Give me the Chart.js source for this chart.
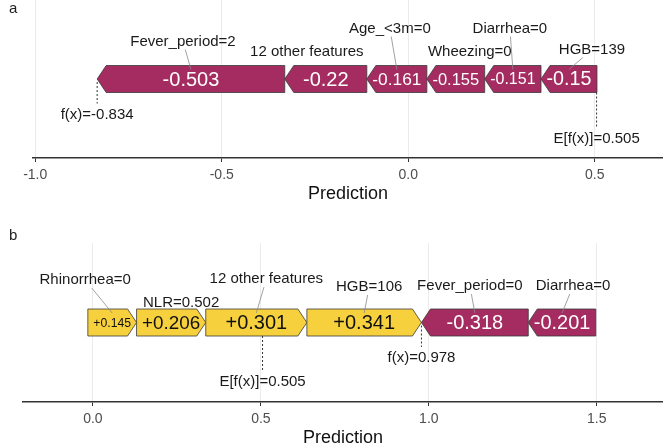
<!DOCTYPE html>
<html>
<head>
<meta charset="utf-8">
<script src="https://cdn.jsdelivr.net/npm/chart.js@4/dist/chart.umd.min.js"></script>
<style>
  html, body { margin: 0; padding: 0; background: #fff; overflow: hidden; }
  #wrap { position: relative; width: 663px; height: 446px; overflow: hidden; font-family: "Liberation Sans", Arial, sans-serif; }
  canvas { position: absolute; left: 0; }
  #cA { top: 0; }
  #cB { top: 223px; }
  .tag { position: absolute; left: 9px; font-size: 15px; color: #222; }
</style>
</head>
<body>
<div id="wrap">
  <canvas id="cA" width="663" height="223"></canvas>
  <canvas id="cB" width="663" height="226"></canvas>
  <div class="tag" style="top:-1px">a</div>
  <div class="tag" style="top:226px">b</div>
</div>
<script>
// panel a – features left to right, SHAP values
const featuresA = ['Fever_period=2', '12 other features', 'Age_<3m=0', 'Wheezing=0', 'Diarrhea=0', 'HGB=139'];
const shapA = [-0.503, -0.22, -0.161, -0.155, -0.151, -0.15];
const baseA = 0.505;
const fxA = -0.834;

// panel b
const featuresB = ['Rhinorrhea=0', 'NLR=0.502', '12 other features', 'HGB=106', 'Fever_period=0', 'Diarrhea=0'];
const shapB = [0.145, 0.206, 0.301, 0.341, -0.318, -0.201];
const baseB = 0.505;
const fxB = 0.978;

// label placement (repel result), offsets from bar centre / bar top in px
const offsA = [[-8, -24], [-19, -14], [-7, -37], [14, -14], [-3, -37], [23, -16]];
const offsB = [[-27, -29], [10, -6], [10, -30], [5, -22], [-5, -23], [11, -23]];

const POS = '#f7d13d', NEG = '#a52c60';
const FONT = '"Liberation Sans", Arial, sans-serif';

function segments(vals, fx) {
  let x0 = fx - vals.filter(v => v > 0).reduce((a, b) => a + b, 0);
  return vals.map(v => { const s = [x0, x0 + Math.abs(v)]; x0 += Math.abs(v); return s; });
}

const forcePlugin = {
  id: 'force',
  afterDatasetsDraw(chart) {
    const ctx = chart.ctx;
    const o = chart.options.plugins.force;
    const xs = chart.scales.x;
    const tip = 9;
    let top = 0, bottom = 0, mid = 0;
    ctx.save();
    chart.data.datasets.forEach((ds, i) => {
      const el = chart.getDatasetMeta(i).data[0];
      const l = Math.min(el.x, el.base), r = Math.max(el.x, el.base);
      top = el.y - el.height / 2; bottom = el.y + el.height / 2; mid = el.y;
      const v = o.values[i];
      ctx.beginPath();
      if (v > 0) {
        ctx.moveTo(l, top); ctx.lineTo(r - tip, top); ctx.lineTo(r, mid);
        ctx.lineTo(r - tip, bottom); ctx.lineTo(l, bottom);
      } else {
        ctx.moveTo(l, mid); ctx.lineTo(l + tip, top); ctx.lineTo(r, top);
        ctx.lineTo(r, bottom); ctx.lineTo(l + tip, bottom);
      }
      ctx.closePath();
      ctx.fillStyle = v > 0 ? POS : NEG;
      ctx.fill();
      ctx.lineWidth = 0.8;
      ctx.strokeStyle = '#3a3a3a';
      ctx.stroke();

      // value text, shrunk to fit
      const txt = (v > 0 ? '+' : '') + v;
      ctx.font = '20px ' + FONT;
      const w20 = ctx.measureText(txt).width;
      const size = Math.min(20, 20 * (r - l - 11) / w20);
      ctx.font = size + 'px ' + FONT;
      ctx.fillStyle = v > 0 ? '#111' : '#fff';
      ctx.textAlign = 'center';
      ctx.textBaseline = 'middle';
      ctx.fillText(txt, (l + r) / 2, mid + 1);

      // feature label + leader
      const off = o.offsets[i];
      const cx = (l + r) / 2;
      const tx = cx + off[0], ty = top + off[1];
      ctx.font = '15px ' + FONT;
      ctx.fillStyle = '#1a1a1a';
      ctx.fillText(o.labels[i], tx, ty);
      if (off[1] < -15) {
        const hw = ctx.measureText(o.labels[i]).width / 2 + 1;
        const hh = 8;
        const dx = cx - tx, dy = top + 4 - ty;
        const t = Math.min(Math.abs(hw / (dx || 1e-6)), Math.abs(hh / dy));
        ctx.beginPath();
        ctx.moveTo(tx + dx * t, ty + dy * t);
        ctx.lineTo(cx, top + 4);
        ctx.strokeStyle = '#8a8a8a';
        ctx.lineWidth = 0.8;
        ctx.stroke();
      }
    });

    // reference markers
    ctx.setLineDash([2, 2]);
    ctx.strokeStyle = '#333';
    ctx.lineWidth = 1;
    ctx.font = '15px ' + FONT;
    ctx.fillStyle = '#1a1a1a';
    const fxP = xs.getPixelForValue(o.fx), bP = xs.getPixelForValue(o.base);
    ctx.beginPath(); ctx.moveTo(fxP, mid + 3); ctx.lineTo(fxP, bottom + 11); ctx.stroke();
    ctx.beginPath(); ctx.moveTo(bP, bottom); ctx.lineTo(bP, bottom + 35); ctx.stroke();
    ctx.fillText('f(x)=' + o.fx, fxP, bottom + 22);
    ctx.fillText('E[f(x)]=' + o.base, bP, bottom + 46);
    ctx.restore();
  }
};

function makeChart(id, feats, vals, base, fx, offs, xmin, xmax, pad, axisH) {
  const segs = segments(vals, fx);
  return new Chart(document.getElementById(id), {
    type: 'bar',
    data: {
      labels: [''],
      datasets: segs.map((s, i) => ({
        label: feats[i],
        data: [s],
        backgroundColor: 'rgba(0,0,0,0)',
        borderWidth: 0,
        barThickness: 27,
        grouped: false
      }))
    },
    options: {
      indexAxis: 'y',
      responsive: false,
      animation: false,
      layout: { padding: pad },
      plugins: {
        legend: { display: false },
        tooltip: { enabled: false },
        force: { values: vals, labels: feats, offsets: offs, base: base, fx: fx }
      },
      scales: {
        y: { display: false },
        x: {
          type: 'linear',
          min: xmin,
          max: xmax,
          afterFit: s => { s.height = axisH; },
          ticks: {
            stepSize: 0.5,
            includeBounds: false,
            padding: 5,
            color: '#4d4d4d',
            font: { family: FONT, size: 14 },
            callback: v => v.toFixed(1)
          },
          grid: { color: '#ebebeb', lineWidth: 1, tickLength: 4, tickColor: '#333' },
          border: { color: '#333', width: 1.5 },
          title: { display: true, text: 'Prediction', color: '#111', font: { family: FONT, size: 18 }, padding: 0 }
        }
      }
    },
    plugins: [forcePlugin]
  });
}

makeChart('cA', featuresA, shapA, baseA, fxA, offsA, -1.006, 0.683,
  { left: 33, right: 0, top: 0, bottom: 18 }, 47);
makeChart('cB', featuresB, shapB, baseB, fxB, offsB, -0.208, 1.697,
  { left: 23, right: 0, top: 20, bottom: 0 }, 47);
</script>
</body>
</html>
